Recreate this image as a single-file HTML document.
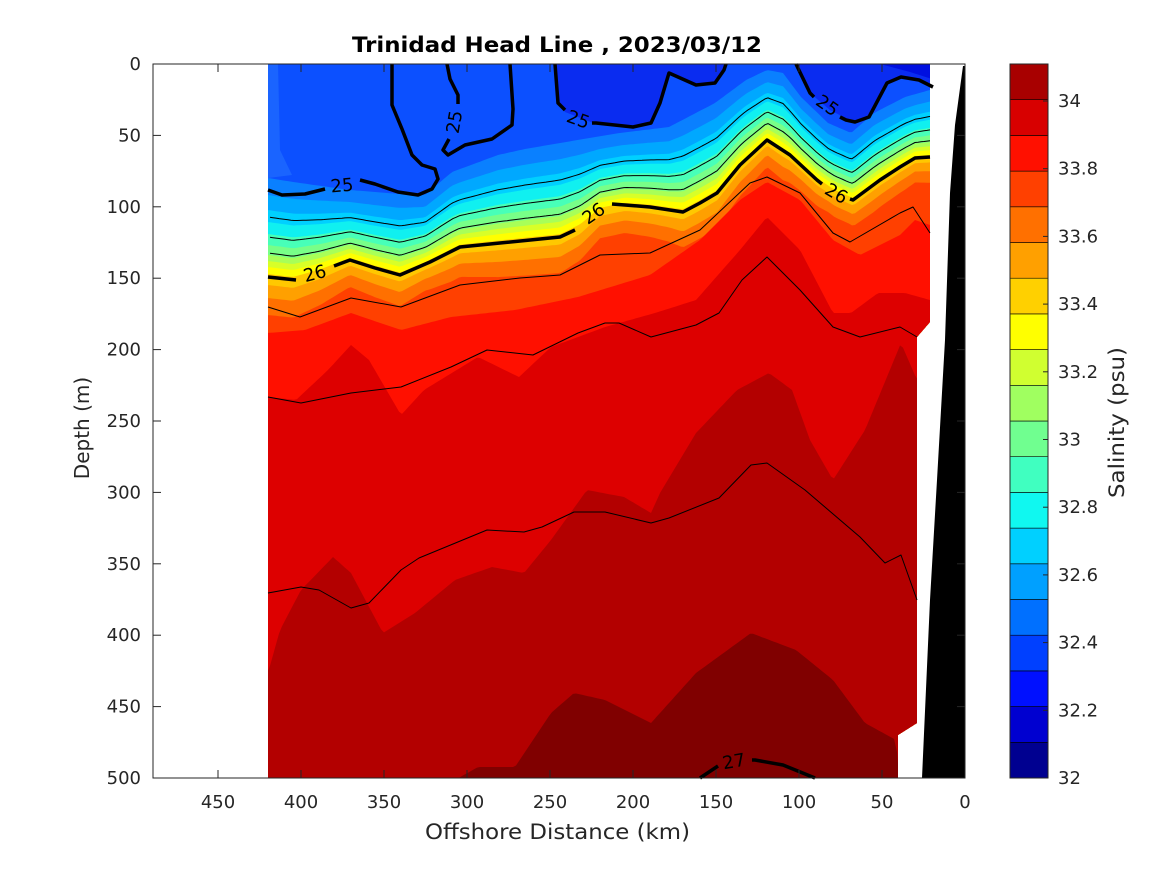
<!DOCTYPE html>
<html><head><meta charset="utf-8"><style>
body{margin:0;background:#fff}
svg{display:block;font-family:"DejaVu Sans","Liberation Sans",sans-serif}
</style></head><body>
<svg id="s" width="1167" height="875" viewBox="0 0 1167 875" xmlns="http://www.w3.org/2000/svg">
<defs><clipPath id="dc"><polygon points="268,64 930,64 930,322 917,337 917,723 898,735 898,778 268,778"/></clipPath></defs>
<g id="field" clip-path="url(#dc)"></g>
<g id="lines" fill="none" stroke="#000" stroke-linejoin="round"></g>
<polygon points="963,66 965,66 965,778 922,778 930,600 937,480 945,340 950,193 955,125" fill="#000"/>
<g id="axes"></g>
</svg>
<script>
const NS="http://www.w3.org/2000/svg";
function el(p,t,a,txt){const e=document.createElementNS(NS,t);for(const k in a)e.setAttribute(k,a[k]);if(txt!==undefined)e.textContent=txt;p.appendChild(e);return e;}
function interp(pts,x){if(x<=pts[0][0])return pts[0][1];for(let i=1;i<pts.length;i++){if(x<=pts[i][0]){const a=pts[i-1],b=pts[i];return a[1]+(b[1]-a[1])*(x-a[0])/(b[0]-a[0]);}}return pts[pts.length-1][1];}
const R=[[268,277],[293,280],[320,272],[350,260],[375,268],[400,275],[430,262],[460,247],[500,243],[560,237],[580,227],[600,210],[625,205],[650,207],[683,212],[700,203],[717,193],[740,165],[767,140],[790,155],[817,180],[835,192],[853,200],[880,180],[900,167],[915,158],[930,157]];
const T=[[268,178],[300,183],[350,190],[400,194],[425,195],[452,172],[498,155],[525,149],[578,140],[620,133],[669,127],[715,103],[746,80],[767,70],[783,73],[801,97],[828,123],[851,133],[874,113],[905,97],[930,90]];
const field=document.getElementById('field');
const xs=[];for(let x=264;x<=934;x+=3)xs.push(x);
function polyFrom(fn,color){let p=xs.map(x=>x+','+fn(x).toFixed(1));p.push('934,780','264,780');el(field,'polygon',{points:p.join(' '),fill:color});}
el(field,'rect',{x:260,y:60,width:680,height:720,fill:'#0c50ff'});
el(field,'polygon',{points:'268,64 278,64 280,150 292,175 268,178',fill:'#1a64ff'});
el(field,'polygon',{points:'555,64 558,103 565,112 596,124 633,128 651,124 660,103 669,73 696,86 715,84 726,64',fill:'#0a2cf0'});
el(field,'polygon',{points:'796,64 810,93 830,110 855,123 869,117 887,83 901,77 919,80 935,87 935,64',fill:'#0a2cf0'});
el(field,'polygon',{points:'880,64 935,64 935,80 910,72',fill:'#0010e0'});
const bands=[[-99,'#0a80ff'],[-82,'#00a8ff'],[-67,'#00d0ff'],[-55,'#10f0f0'],[-43,'#48ffb8'],[-32,'#78ff88'],[-22,'#a8ff58'],[-16,'#d8ff28'],[-10,'#ffff00'],[-3,'#ffc800'],[8,'#ffa000'],[21,'#ff7000'],[38,'#ff4000']];
function off(o){return x=>{const r=interp(R,x),t=interp(T,x);return r+(r-t)/99*o;};}
bands.forEach(b=>polyFrom(off(b[0]),b[1]));
const C3=[[268,333],[305,330],[351,313],[401,330],[451,317],[515,310],[578,297],[650,275],[700,240],[740,200],[767,182],[800,200],[833,240],[860,255],[900,235],[915,220],[930,225]];
const C2=[[268,397],[296,400],[328,370],[351,345],[369,360],[401,415],[424,390],[478,357],[519,377],[551,347],[605,327],[655,313],[696,300],[740,250],[767,217],[800,250],[833,313],[851,313],[878,293],[905,293],[930,300]];
const C1=[[268,673],[280,630],[301,590],[333,557],[351,573],[383,633],[415,613],[455,580],[492,567],[524,573],[551,540],[587,490],[624,497],[651,513],[660,493],[696,433],[737,390],[769,373],[792,390],[810,440],[833,480],[865,430],[901,343],[917,380],[930,380]];
const C0=[[268,800],[440,800],[455,780],[478,767],[515,767],[551,713],[574,693],[605,700],[651,723],[696,673],[751,633],[796,650],[833,680],[865,723],[896,740],[901,800],[930,800]];
polyFrom(x=>interp(C3,x),'#ff1000');
polyFrom(x=>interp(C2,x),'#dd0000');
polyFrom(x=>interp(C1,x),'#b30000');
polyFrom(x=>interp(C0,x),'#800000');
const L=document.getElementById('lines');
function pl(pts,w){el(L,'polyline',{points:pts.map(p=>p.join(',')).join(' '),'stroke-width':w});}
[-60,-40,-24].forEach(o=>{const f=off(o);pl(xs.filter(x=>x>=268&&x<=930).map(x=>[x,f(x).toFixed(1)]),1);});
pl([[268,307],[300,317],[351,298],[401,307],[460,285],[520,278],[560,275],[600,255],[650,253],[700,230],[750,183],[767,177],[800,193],[833,233],[850,242],[900,213],[913,207],[930,233]],1);
pl([[268,397],[301,403],[351,393],[401,387],[451,367],[487,350],[533,355],[578,333],[605,323],[619,323],[651,337],[696,325],[719,313],[742,280],[767,257],[800,290],[833,327],[860,337],[900,327],[917,337]],1);
pl([[268,593],[301,587],[319,590],[351,608],[369,603],[401,570],[419,558],[487,530],[524,532],[542,527],[574,512],[605,512],[651,523],[669,518],[719,498],[751,465],[767,463],[805,490],[860,537],[885,563],[901,555],[917,600]],1);
pl([[268,277],[296,280]],3.5);
pl([[334,266],[350,260],[375,268],[400,275],[430,262],[460,247],[500,243],[560,237],[575,230]],3.5);
pl([[612,204],[625,205],[650,207],[683,212],[700,203],[717,193],[740,165],[767,140],[790,155],[817,180],[822,184]],3.5);
pl([[850,199],[853,200],[880,180],[900,167],[915,158],[930,157]],3.5);
pl([[268,190],[282,195],[305,194],[325,189]],3.5);
pl([[360,180],[375,184],[398,192],[418,195],[432,189],[438,179],[435,169],[422,165],[412,155],[402,129],[392,105],[392,64]],3.5);
pl([[447,64],[450,79],[458,95],[458,104]],3.5);
pl([[449,139],[443,150],[448,155],[465,145],[492,139],[512,125],[513,109],[510,64]],3.5);
pl([[555,64],[558,103],[565,110]],3.5);
pl([[592,123],[596,123],[633,127],[651,123],[660,103],[669,73],[696,85],[715,83],[724,70],[726,64]],3.5);
pl([[796,64],[810,93],[814,97]],3.5);
pl([[840,117],[846,120],[855,122],[869,117],[887,83],[901,77],[919,80],[933,87]],3.5);
pl([[700,778],[715,768],[718,766]],3.5);
pl([[752,760],[755,760],[783,765],[815,778]],3.5);
function lab(x,y,r,t){el(L,'text',{x:x,y:y,'font-size':18,fill:'#000',stroke:'none','text-anchor':'middle','dominant-baseline':'central',transform:`rotate(${r} ${x} ${y})`},t);}
lab(315,274,-15,'26');lab(594,214,-35,'26');lab(836,194,30,'26');
lab(342,186,-5,'25');lab(455,122,-80,'25');lab(578,120,20,'25');lab(827,106,35,'25');lab(734,762,-10,'27');
const A=document.getElementById('axes');
el(A,'rect',{x:153,y:64,width:812,height:714,fill:'none',stroke:'#262626','stroke-width':1});
for(let k=0;k<=450;k+=50){const x=965-k*1.66;el(A,'line',{x1:x,y1:778,x2:x,y2:770,stroke:'#262626'});el(A,'line',{x1:x,y1:64,x2:x,y2:72,stroke:'#262626'});el(A,'text',{x:x,y:808,'font-size':18,fill:'#262626','text-anchor':'middle'},k);}
for(let m=0;m<=500;m+=50){const y=64+m*1.428;el(A,'line',{x1:153,y1:y,x2:161,y2:y,stroke:'#262626'});el(A,'line',{x1:965,y1:y,x2:957,y2:y,stroke:'#262626'});el(A,'text',{x:141,y:y+6,'font-size':18,fill:'#262626','text-anchor':'end'},m);}
el(A,'text',{x:352,y:52,'font-size':21,'font-weight':'bold',fill:'#000',textLength:410,lengthAdjust:'spacingAndGlyphs'},'Trinidad Head Line , 2023/03/12');
el(A,'text',{x:425,y:839,'font-size':21,fill:'#262626',textLength:265,lengthAdjust:'spacingAndGlyphs'},'Offshore Distance (km)');
el(A,'text',{x:0,y:0,'font-size':20,fill:'#262626','text-anchor':'middle',transform:'translate(89,428) rotate(-90)'},'Depth (m)');
const cb=['#000090','#0000d0','#0010ff','#0040ff','#0070ff','#00a0ff','#00d0ff','#10f8f0','#40ffc0','#70ff90','#a0ff60','#d0ff30','#ffff00','#ffd000','#ffa000','#ff7000','#ff4000','#ff1000','#d80000','#a80000'];
const bh=714/20;
cb.forEach((c,i)=>{el(A,'rect',{x:1010,y:778-(i+1)*bh,width:38,height:bh,fill:c,stroke:'#000','stroke-width':0.6});});
el(A,'rect',{x:1010,y:64,width:38,height:714,fill:'none',stroke:'#262626'});
for(let i=0;i<=10;i++){const y=778-i*67.7;el(A,'line',{x1:1048,y1:y,x2:1043,y2:y,stroke:'#262626'});el(A,'text',{x:1058,y:y+6,'font-size':18,fill:'#262626'},(32+i*0.2).toFixed(1).replace(/\.0$/,''));}
el(A,'text',{x:0,y:0,'font-size':21,fill:'#262626',textLength:151,lengthAdjust:'spacingAndGlyphs',transform:'translate(1124,498) rotate(-90)'},'Salinity (psu)');
</script>
</body></html>
